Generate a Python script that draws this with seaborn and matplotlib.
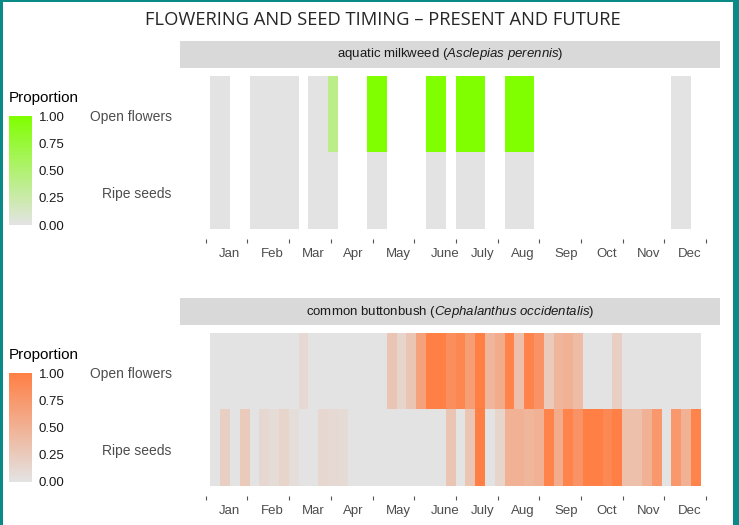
import numpy as np
import pandas as pd
import matplotlib.pyplot as plt
import seaborn as sns
from matplotlib.colors import LinearSegmentedColormap
from matplotlib.patches import Rectangle
from matplotlib.transforms import ScaledTranslation

N = np.nan

MONTHS = ["Jan", "Feb", "Mar", "Apr", "May", "June", "July", "Aug", "Sep", "Oct", "Nov", "Dec"]
STAGES = ["Open flowers", "Ripe seeds"]
WEEKS = list(range(1, 51))

# aquatic milkweed, proportion per week (NaN = no observation)
MILKWEED_FLOWERS = [0, 0, N, N, 0, 0, 0, 0, 0, N, 0, 0, 0.4, N, N, N, 1, 1, N, N,
                    N, N, 1, 1, N, 1, 1, 1, N, N, 1, 1, 1, N, N, N, N, N, N, N,
                    N, N, N, N, N, N, N, 0, 0, N]
MILKWEED_SEEDS = [0, 0, N, N, 0, 0, 0, 0, 0, N, 0, 0, 0, N, N, N, 0, 0, N, N,
                  N, N, 0, 0, N, 0, 0, 0, N, N, 0, 0, 0, N, N, N, N, N, N, N,
                  N, N, N, N, N, N, N, 0, 0, N]

# common buttonbush
BUTTONBUSH_FLOWERS = [0, 0, 0, 0, 0, 0, 0, 0, 0, 0.1, 0, 0, 0, 0, 0, 0, 0, 0, 0.3, 0.15,
                      0.3, 0.65, 1.0, 1.0, 0.85, 0.92, 0.7, 1.0, 0.45, 0.55, 0.95, 0.35, 0.95, 0.8, 0.25, 0.45,
                      0.5, 0.4, 0, 0, 0, 0.2, 0, 0, 0, 0, 0, 0, 0, 0]
BUTTONBUSH_SEEDS = [0, 0.2, 0, 0.25, 0, 0.12, 0.07, 0.15, 0.06, 0, 0, 0.12, 0.1, 0.09, 0, 0, 0, 0, 0, 0,
                    0, 0, 0, 0, 0.3, 0, 0.3, 1.0, 0, 0.15, 0.5, 0.5, 0.45, 0.5, 0.95, 0.55, 0.95, 0.8,
                    1.0, 1.0, 0.9, 1.0, 0.35, 0.35, 0.5, 0.75, 0, 0.75, 0.5, 0.95]

W, H = 739, 525
GREY_LOW = "#E3E3E3"
TEXT_GREY = "#4D4D4D"
# month labels sit a little right of the middle of each month span (in week units)
LABEL_NUDGE = [0.3, 0.4, 0.35, 0.15, 0.5, 1.0, 0.6, 0.45, 0.6, 0.45, 0.5, 0.45]


def setup_style():
    sns.set_theme(style="white")
    plt.rcParams.update(
        {
            "font.family": ["Liberation Sans", "DejaVu Sans"],
            "mathtext.fontset": "custom",
            "mathtext.rm": "Liberation Sans",
            "mathtext.it": "Liberation Sans:italic",
        }
    )


def fx(px):
    return px / W


def fy(px):
    return 1 - px / H


def draw_panel(fig, top, df, high, label):
    # top = pixel row of the strip header
    strip_h = 27
    ax_top = top + strip_h
    ax_bot = ax_top + 171
    ax = fig.add_axes([fx(180), fy(ax_bot), fx(540), (ax_bot - ax_top) / H])
    cax = fig.add_axes([fx(9), fy(top + 184), fx(23), 109 / H])

    cmap = LinearSegmentedColormap.from_list("prop", [GREY_LOW, high])
    sns.heatmap(
        df,
        ax=ax,
        cmap=cmap,
        vmin=0,
        vmax=1,
        cbar_ax=cax,
        xticklabels=False,
        yticklabels=True,
        cbar_kws={"ticks": [0, 0.25, 0.5, 0.75, 1.0], "format": "%.2f"},
    )

    ax.set_xlim(-3.09, 51.96)
    ax.set_ylim(2.13, -0.1)
    edges = np.linspace(-0.46, 50.55, 13)
    mids = (edges[:-1] + edges[1:]) / 2 + np.array(LABEL_NUDGE)
    ax.set_xticks(edges)
    ax.set_xticklabels([])
    ax.set_xticks(mids, minor=True)
    ax.set_xticklabels(MONTHS, minor=True)
    ax.tick_params(axis="x", which="major", bottom=True, length=3, width=0.8, color="#555555")
    ax.tick_params(axis="x", which="minor", bottom=True, length=0, pad=6.5,
                   labelsize=9.5, labelcolor=TEXT_GREY)
    ax.tick_params(axis="y", left=False, length=0, pad=6, labelsize=10,
                   labelcolor=TEXT_GREY, rotation=0)
    shift = ScaledTranslation(0, -3 / 100, fig.dpi_scale_trans)
    for t in ax.get_yticklabels():
        t.set_transform(t.get_transform() + shift)
    ax.set_xlabel("")
    ax.set_ylabel("")
    for spine in ax.spines.values():
        spine.set_visible(False)

    cax.tick_params(axis="y", direction="in", color="white", length=4, width=1,
                    left=True, right=True, labelsize=9.5, labelcolor="#1A1A1A", pad=5)
    cax.yaxis.set_ticks_position("both")
    fig.text(fx(9), fy(top + 57), "Proportion", fontsize=11, color="black",
             ha="left", va="center")

    fig.add_artist(Rectangle((fx(180), fy(ax_top)), fx(540), strip_h / H,
                             transform=fig.transFigure, facecolor="#D9D9D9",
                             edgecolor="none"))
    fig.text(fx(450), fy(top + strip_h / 2), label, fontsize=9.5, color="#1A1A1A",
             ha="center", va="center")
    return ax


def main():
    setup_style()
    fig = plt.figure(figsize=(W / 100, H / 100), dpi=100)

    milkweed = pd.DataFrame([MILKWEED_FLOWERS, MILKWEED_SEEDS], index=STAGES, columns=WEEKS)
    buttonbush = pd.DataFrame([BUTTONBUSH_FLOWERS, BUTTONBUSH_SEEDS], index=STAGES, columns=WEEKS)

    draw_panel(fig, 41, milkweed, "#7FFF00",
               r"aquatic milkweed ($\mathit{Asclepias\ perennis}$)")
    draw_panel(fig, 298, buttonbush, "#FF7F45",
               r"common buttonbush ($\mathit{Cephalanthus\ occidentalis}$)")

    fig.text(fx(383), fy(20), "FLOWERING AND SEED TIMING \u2013 PRESENT AND FUTURE",
             fontsize=13.2, color="#262626", ha="center", va="center",
             family=["Open Sans", "DejaVu Sans"])

    teal = "#0A8A86"
    fig.add_artist(Rectangle((0, 0), fx(3), 1, transform=fig.transFigure,
                             facecolor=teal, edgecolor="none"))
    fig.add_artist(Rectangle((fx(733), 0), fx(6), 1, transform=fig.transFigure,
                             facecolor=teal, edgecolor="none"))
    fig.add_artist(Rectangle((0, fy(2)), 1, 2 / H, transform=fig.transFigure,
                             facecolor=teal, edgecolor="none"))

    fig.savefig("out.png", dpi=100)
    plt.close(fig)


if __name__ == "__main__":
    main()
